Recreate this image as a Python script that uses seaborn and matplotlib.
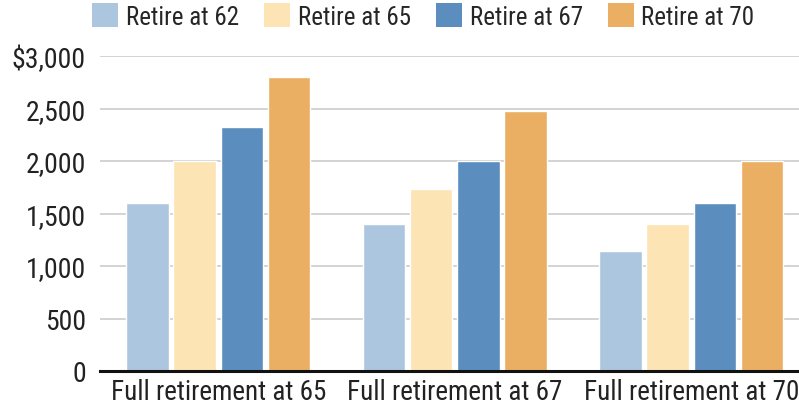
import seaborn as sns
import matplotlib.pyplot as plt
import pandas as pd
from matplotlib.patches import Patch

categories = ['Full retirement at 65', 'Full retirement at 67', 'Full retirement at 70']
series = ['Retire at 62', 'Retire at 65', 'Retire at 67', 'Retire at 70']
retire_62 = [1600, 1400, 1140]
retire_65 = [2000, 1733, 1400]
retire_67 = [2320, 2000, 1600]
retire_70 = [2800, 2480, 2000]

data = pd.DataFrame({
    'Category': categories * 4,
    'Series': [s for s in series for _ in categories],
    'Benefit': retire_62 + retire_65 + retire_67 + retire_70,
})

palette = {
    'Retire at 62': '#adc6df',
    'Retire at 65': '#fce4b4',
    'Retire at 67': '#5b8ebf',
    'Retire at 70': '#eaaf63',
}

sns.set_theme(style="white")
plt.rcParams['font.family'] = ['Roboto Condensed', 'Liberation Sans Narrow', 'Roboto', 'DejaVu Sans']

fig = plt.figure(figsize=(7.99, 4.10), dpi=100)
ax = fig.add_axes([100 / 799, 38 / 410, 709.5 / 799, 315 / 410])

sns.barplot(
    data=data, x='Category', y='Benefit', hue='Series',
    palette=palette, gap=0.1, width=0.8, ax=ax, legend=False,
    saturation=1, zorder=3,
)

ax.set_ylim(0, 3000)
ax.set_xlim(-0.5, 2.5)
ax.set_yticks([0, 500, 1000, 1500, 2000, 2500, 3000])
ax.set_yticklabels(['0', '500', '1,000', '1,500', '2,000', '2,500', '$3,000'])
ax.yaxis.grid(True, color='#cccccc', linewidth=1.2, zorder=0)
ax.set_axisbelow(True)
ax.tick_params(axis='y', length=0, labelsize=20, colors='#222222', pad=10)
ax.tick_params(axis='x', length=0, labelsize=19.5, colors='#222222', pad=5)
ax.set_xlabel('')
ax.set_ylabel('')
for s in ['left', 'right', 'top']:
    ax.spines[s].set_visible(False)
ax.spines['bottom'].set_color('#111111')
ax.spines['bottom'].set_linewidth(2.2)
ax.spines['bottom'].set_zorder(5)

handles = [Patch(facecolor=palette[s], edgecolor='none') for s in series]
fig.legend(
    handles, series, loc='upper left', bbox_to_anchor=(92 / 799, 1 - 4 / 410),
    ncol=4, frameon=False, fontsize=18, handlelength=1.05, handleheight=1.12,
    handletextpad=0.3, columnspacing=1.0, borderaxespad=0, borderpad=0,
)

plt.savefig('out.png', dpi=100)
